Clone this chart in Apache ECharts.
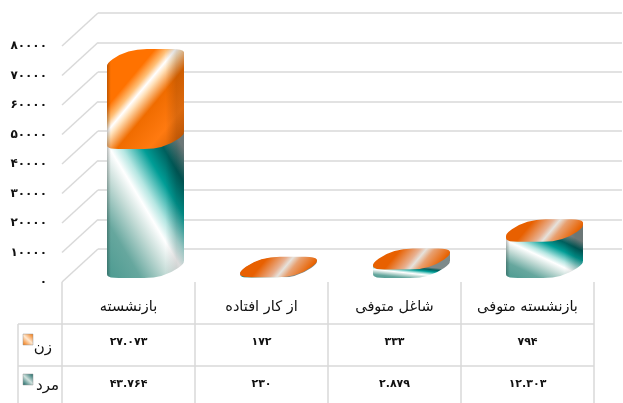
<!DOCTYPE html>
<html lang="fa">
<head>
    <meta charset="UTF-8">
    <title>Chart</title>
    <style>
        * { padding: 0; margin: 0; }
        html, body { height: 100%; width: 100%; background: #fff; overflow: hidden; }
        #chart { width: 623px; height: 403px; }
    </style>
</head>
<body>
    <div id="chart"></div>
    <script src="https://cdn.jsdelivr.net/npm/echarts@6/dist/echarts.min.js"></script>
    <script>
        const categories = ['بازنشسته', 'از کار افتاده', 'شاغل متوفی', 'بازنشسته متوفی'];
        const seriesNames = ['زن', 'مرد'];
        const womenValues = [27073, 172, 333, 794];
        const menValues = [43764, 230, 2879, 12303];
        const yTicks = [0, 10000, 20000, 30000, 40000, 50000, 60000, 70000, 80000];
        const yTickLabels = ['۰', '۱۰۰۰۰', '۲۰۰۰۰', '۳۰۰۰۰', '۴۰۰۰۰', '۵۰۰۰۰', '۶۰۰۰۰', '۷۰۰۰۰', '۸۰۰۰۰'];
        const womenLabels = ['۲۷.۰۷۳', '۱۷۲', '۳۳۳', '۷۹۴'];
        const menLabels = ['۴۳.۷۶۴', '۲۳۰', '۲.۸۷۹', '۱۲.۳۰۳'];

        const FONT = '"DejaVu Sans"';
        const LINE = '#d9d9d9';
        const TEXT = '#111';
        const FACE_W = 57, DEPTH = 20, BASE_GAP = 4;
        const EDGE_R = 20, TIP_X = 8.2, TIP_Y = 3.5;
        const WALL_DX = 36, WALL_DY = 33;

        // rounded outline of the top face, front edge sits at y
        function facePath(x0, y) {
            const pts = [
                [x0 - TIP_X, y],
                [x0 + DEPTH, y - DEPTH],
                [x0 + FACE_W + DEPTH + TIP_X, y - DEPTH],
                [x0 + FACE_W, y]
            ];
            let d = '';
            pts.forEach((p, i) => {
                const prev = pts[(i + 3) % 4], next = pts[(i + 1) % 4];
                const a = cornerEnd(p, prev, i % 2 === 0), b = cornerEnd(p, next, i % 2 === 1);
                d += (i === 0 ? 'M' : 'L') + a[0] + ' ' + a[1] + 'Q' + p[0] + ' ' + p[1] + ' ' + b[0] + ' ' + b[1];
            });
            return d + 'Z';
        }
        // long edges keep a fixed radius, the slanted ones round up to their middle
        function cornerEnd(p, q, longEdge) {
            if (!longEdge) return [(p[0] + q[0]) / 2, (p[1] + q[1]) / 2];
            const len = Math.hypot(q[0] - p[0], q[1] - p[1]);
            return [p[0] + (q[0] - p[0]) * EDGE_R / len, p[1] + (q[1] - p[1]) * EDGE_R / len];
        }
        // the face swept from yTop down to yBottom, drawn as one fill
        function bodyPath(x0, yTop, yBottom) {
            const lx = x0, rx = x0 + FACE_W + DEPTH;
            const band = 'M' + lx + ' ' + (yTop - TIP_Y) + 'L' + rx + ' ' + (yTop - DEPTH + TIP_Y) +
                'L' + rx + ' ' + (yBottom - DEPTH + TIP_Y) + 'L' + lx + ' ' + (yBottom - TIP_Y) + 'Z';
            return facePath(x0, yTop) + band + facePath(x0, yBottom);
        }

        function tealFill(x0, yTop, yBottom) {
            const w = FACE_W + DEPTH, h = Math.max(yBottom - yTop, 1);
            const len = Math.hypot(w, h), span = 2 * w * h / len;
            return {
                type: 'linear', global: true,
                x: x0, y: yBottom,
                x2: x0 + h / len * span, y2: yBottom - w / len * span,
                colorStops: [
                    { offset: 0, color: '#4b9a90' },
                    { offset: 0.22, color: '#66a79e' },
                    { offset: 0.4, color: '#c5dcd7' },
                    { offset: 0.52, color: '#ffffff' },
                    { offset: 0.6, color: '#b5e6e2' },
                    { offset: 0.74, color: '#009d96' },
                    { offset: 0.87, color: '#005f5d' },
                    { offset: 1, color: '#7d8a8a' }
                ]
            };
        }
        function orangeFill(x0, yTop, yBottom) {
            const w = FACE_W + DEPTH, h = yBottom - yTop + DEPTH;
            const dx = 0.768, dy = 0.64, span = w * dx + h * dy;
            const tall = h > 45;
            const top = yTop - DEPTH;
            return {
                type: 'linear', global: true,
                x: x0, y: top,
                x2: x0 + dx * span, y2: top + dy * span,
                colorStops: tall ? [
                    { offset: 0, color: '#ff7200' },
                    { offset: 0.3, color: '#ff7200' },
                    { offset: 0.38, color: '#ffc078' },
                    { offset: 0.43, color: '#ffffff' },
                    { offset: 0.47, color: '#ffe0b8' },
                    { offset: 0.58, color: '#f06c00' },
                    { offset: 0.78, color: '#ff7a10' },
                    { offset: 1, color: '#c95800' }
                ] : [
                    { offset: 0, color: '#e86000' },
                    { offset: 0.3, color: '#e86000' },
                    { offset: 0.5, color: '#e8b090' },
                    { offset: 0.57, color: '#e6e2dc' },
                    { offset: 0.66, color: '#e8a070' },
                    { offset: 0.85, color: '#e86200' },
                    { offset: 1, color: '#e86000' }
                ]
            };
        }
        // darker back side and left edge on the taller blocks
        const sideShade = (x0) => ({
            type: 'linear', global: true,
            x: x0, y: 0, x2: x0 + FACE_W + DEPTH, y2: 0,
            colorStops: [
                { offset: 0, color: 'rgba(0,0,0,0.25)' },
                { offset: 0.05, color: 'rgba(0,0,0,0)' },
                { offset: 0.76, color: 'rgba(0,0,0,0)' },
                { offset: 0.9, color: 'rgba(0,0,0,0.14)' },
                { offset: 1, color: 'rgba(0,0,0,0.14)' }
            ]
        });

        function blockItem(fillFn) {
            return function (params, api) {
                const cat = api.value(0);
                const x0 = api.coord([cat, 0])[0] - 21.5;
                const yBottom = api.coord([cat, api.value(1)])[1] - BASE_GAP;
                const yTop = api.coord([cat, api.value(2)])[1] - BASE_GAP;
                const path = bodyPath(x0, yTop, yBottom);
                const children = [{ type: 'path', shape: { pathData: path }, style: { fill: fillFn(x0, yTop, yBottom) } }];
                if (yBottom - yTop > 30) {
                    children.push({ type: 'path', shape: { pathData: path }, style: { fill: sideShade(x0) } });
                }
                return { type: 'group', children: children };
            };
        }

        function wallEdge(params, api) {
            const c = api.coord([0, api.value(0)]);
            const x = params.coordSys.x;
            return {
                type: 'line',
                shape: { x1: x, y1: c[1], x2: x + WALL_DX, y2: c[1] - WALL_DY },
                style: { stroke: LINE, lineWidth: 1.5, fill: null }
            };
        }

        function tableGraphics() {
            const items = [];
            const left = 62, colW = 133, rowY = [324, 366], rowText = [342, 384];
            const line = (x1, y1, x2, y2) => items.push({
                type: 'line', shape: { x1, y1, x2, y2 }, style: { stroke: LINE, lineWidth: 1.5 }
            });
            for (let i = 0; i <= categories.length; i++) {
                line(left + colW * i, 282, left + colW * i, 403);
            }
            rowY.forEach(y => line(18, y, left + colW * categories.length, y));
            line(18, 324, 18, 403);
            [womenLabels, menLabels].forEach((labels, r) => {
                labels.forEach((t, i) => items.push({
                    type: 'text', x: left + colW * (i + 0.5), y: rowText[r],
                    style: { text: t, font: 'bold 11px ' + FONT, fill: TEXT, align: 'center', verticalAlign: 'middle' }
                }));
            });
            // row headers with their key swatches
            const swatch = [
                ['#f07000', '#ffe8d0'],
                ['#0d5f5c', '#cfe1dd']
            ];
            seriesNames.forEach((name, r) => {
                items.push({
                    type: 'rect', shape: { x: 23, y: r === 0 ? 334 : 374, width: 10, height: 11 },
                    style: {
                        fill: {
                            type: 'linear', x: 0, y: 1, x2: 1, y2: 0,
                            colorStops: [
                                { offset: 0, color: swatch[r][0] },
                                { offset: 0.5, color: swatch[r][1] },
                                { offset: 1, color: swatch[r][0] }
                            ]
                        },
                        stroke: '#999', lineWidth: 0.5
                    }
                });
                items.push({
                    type: 'text', x: r === 0 ? 52 : 59, y: r === 0 ? 348 : 386,
                    style: { text: name, font: '15px ' + FONT, fill: TEXT, align: 'right', verticalAlign: 'middle' }
                });
            });
            return items;
        }

        window.onload = () => {
            const myChart = echarts.init(document.getElementById('chart'));
            const yAxisBase = { type: 'value', min: 0, max: 80000, interval: 10000 };
            myChart.setOption({
                backgroundColor: '#fff',
                animation: false,
                tooltip: { show: false },
                grid: [
                    { left: 62, top: 46, width: 532, height: 236 },
                    { left: 98, top: 13, width: 524, height: 236 }
                ],
                xAxis: [
                    {
                        type: 'category', gridIndex: 0, data: categories,
                        axisLine: { show: false }, axisTick: { show: false },
                        axisLabel: { margin: 18, fontFamily: FONT, fontSize: 14.5, color: TEXT, interval: 0 }
                    },
                    { type: 'category', gridIndex: 1, data: categories, show: false }
                ],
                yAxis: [
                    Object.assign({}, yAxisBase, {
                        gridIndex: 0,
                        axisLine: { show: false }, axisTick: { show: false }, splitLine: { show: false },
                        axisLabel: {
                            margin: 15, fontFamily: FONT, fontSize: 12, color: TEXT, fontWeight: 'bold',
                            formatter: v => yTickLabels[yTicks.indexOf(v)]
                        }
                    }),
                    Object.assign({}, yAxisBase, {
                        gridIndex: 1,
                        axisLine: { show: false }, axisTick: { show: false }, axisLabel: { show: false },
                        splitLine: { show: true, lineStyle: { color: LINE, width: 1.5 } }
                    })
                ],
                graphic: { elements: tableGraphics() },
                series: [
                    {
                        type: 'custom', name: 'wall', xAxisIndex: 0, yAxisIndex: 0, silent: true, clip: false, z: 1,
                        renderItem: wallEdge, encode: { y: 0 }, data: yTicks.map(v => [v])
                    },
                    {
                        type: 'custom', name: seriesNames[1], xAxisIndex: 0, yAxisIndex: 0, silent: true, clip: false, z: 3,
                        renderItem: blockItem(tealFill),
                        encode: { x: 0, y: [1, 2] },
                        data: menValues.map((v, i) => [i, 0, v])
                    },
                    {
                        type: 'custom', name: seriesNames[0], xAxisIndex: 0, yAxisIndex: 0, silent: true, clip: false, z: 4,
                        renderItem: blockItem(orangeFill),
                        encode: { x: 0, y: [1, 2] },
                        data: womenValues.map((v, i) => [i, menValues[i], menValues[i] + v])
                    }
                ]
            });
        };
    </script>
</body>
</html>
